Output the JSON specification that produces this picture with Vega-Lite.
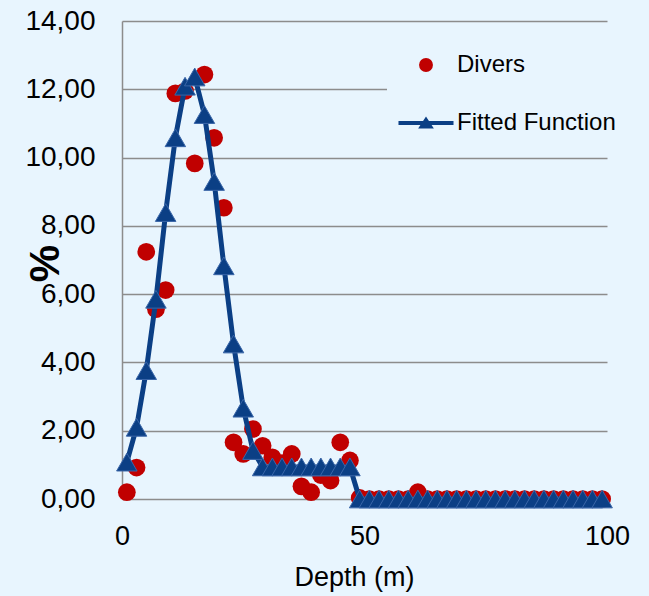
{
  "$schema": "https://vega.github.io/schema/vega-lite/v6.json",
  "autosize": {"type": "none"},
  "width": 485,
  "height": 478,
  "padding": {"left": 122, "top": 21, "right": 42, "bottom": 97},
  "background": "#E8F5FE",
  "config": {
    "view": {"stroke": null},
    "font": "Liberation Sans",
    "axis": {"labelFont": "Liberation Sans", "titleFont": "Liberation Sans", "labelColor": "#000000", "titleColor": "#000000"}
  },
  "data": {
    "values": [
      {"depth": 1, "value": 0.20, "series": "Divers"},
      {"depth": 3, "value": 0.92, "series": "Divers"},
      {"depth": 5, "value": 7.24, "series": "Divers"},
      {"depth": 7, "value": 5.56, "series": "Divers"},
      {"depth": 9, "value": 6.12, "series": "Divers"},
      {"depth": 11, "value": 11.88, "series": "Divers"},
      {"depth": 13, "value": 11.95, "series": "Divers"},
      {"depth": 15, "value": 9.83, "series": "Divers"},
      {"depth": 17, "value": 12.43, "series": "Divers"},
      {"depth": 19, "value": 10.58, "series": "Divers"},
      {"depth": 21, "value": 8.53, "series": "Divers"},
      {"depth": 23, "value": 1.66, "series": "Divers"},
      {"depth": 25, "value": 1.32, "series": "Divers"},
      {"depth": 27, "value": 2.05, "series": "Divers"},
      {"depth": 29, "value": 1.56, "series": "Divers"},
      {"depth": 31, "value": 1.22, "series": "Divers"},
      {"depth": 33, "value": 1.05, "series": "Divers"},
      {"depth": 35, "value": 1.32, "series": "Divers"},
      {"depth": 37, "value": 0.37, "series": "Divers"},
      {"depth": 39, "value": 0.20, "series": "Divers"},
      {"depth": 41, "value": 0.70, "series": "Divers"},
      {"depth": 43, "value": 0.54, "series": "Divers"},
      {"depth": 45, "value": 1.66, "series": "Divers"},
      {"depth": 47, "value": 1.13, "series": "Divers"},
      {"depth": 49, "value": 0.03, "series": "Divers"},
      {"depth": 51, "value": 0, "series": "Divers"},
      {"depth": 53, "value": 0, "series": "Divers"},
      {"depth": 55, "value": 0, "series": "Divers"},
      {"depth": 57, "value": 0, "series": "Divers"},
      {"depth": 59, "value": 0, "series": "Divers"},
      {"depth": 61, "value": 0.20, "series": "Divers"},
      {"depth": 63, "value": 0, "series": "Divers"},
      {"depth": 65, "value": 0, "series": "Divers"},
      {"depth": 67, "value": 0, "series": "Divers"},
      {"depth": 69, "value": 0, "series": "Divers"},
      {"depth": 71, "value": 0, "series": "Divers"},
      {"depth": 73, "value": 0, "series": "Divers"},
      {"depth": 75, "value": 0, "series": "Divers"},
      {"depth": 77, "value": 0, "series": "Divers"},
      {"depth": 79, "value": 0, "series": "Divers"},
      {"depth": 81, "value": 0, "series": "Divers"},
      {"depth": 83, "value": 0, "series": "Divers"},
      {"depth": 85, "value": 0, "series": "Divers"},
      {"depth": 87, "value": 0, "series": "Divers"},
      {"depth": 89, "value": 0, "series": "Divers"},
      {"depth": 91, "value": 0, "series": "Divers"},
      {"depth": 93, "value": 0, "series": "Divers"},
      {"depth": 95, "value": 0, "series": "Divers"},
      {"depth": 97, "value": 0, "series": "Divers"},
      {"depth": 99, "value": 0, "series": "Divers"},
      {"depth": 1, "value": 1.08, "series": "Fitted Function"},
      {"depth": 3, "value": 2.10, "series": "Fitted Function"},
      {"depth": 5, "value": 3.76, "series": "Fitted Function"},
      {"depth": 7, "value": 5.85, "series": "Fitted Function"},
      {"depth": 9, "value": 8.39, "series": "Fitted Function"},
      {"depth": 11, "value": 10.58, "series": "Fitted Function"},
      {"depth": 13, "value": 12.09, "series": "Fitted Function"},
      {"depth": 15, "value": 12.36, "series": "Fitted Function"},
      {"depth": 17, "value": 11.26, "series": "Fitted Function"},
      {"depth": 19, "value": 9.30, "series": "Fitted Function"},
      {"depth": 21, "value": 6.83, "series": "Fitted Function"},
      {"depth": 23, "value": 4.54, "series": "Fitted Function"},
      {"depth": 25, "value": 2.66, "series": "Fitted Function"},
      {"depth": 27, "value": 1.42, "series": "Fitted Function"},
      {"depth": 29, "value": 0.94, "series": "Fitted Function"},
      {"depth": 31, "value": 0.94, "series": "Fitted Function"},
      {"depth": 33, "value": 0.94, "series": "Fitted Function"},
      {"depth": 35, "value": 0.94, "series": "Fitted Function"},
      {"depth": 37, "value": 0.94, "series": "Fitted Function"},
      {"depth": 39, "value": 0.94, "series": "Fitted Function"},
      {"depth": 41, "value": 0.94, "series": "Fitted Function"},
      {"depth": 43, "value": 0.94, "series": "Fitted Function"},
      {"depth": 45, "value": 0.94, "series": "Fitted Function"},
      {"depth": 47, "value": 0.94, "series": "Fitted Function"},
      {"depth": 49, "value": 0, "series": "Fitted Function"},
      {"depth": 51, "value": 0, "series": "Fitted Function"},
      {"depth": 53, "value": 0, "series": "Fitted Function"},
      {"depth": 55, "value": 0, "series": "Fitted Function"},
      {"depth": 57, "value": 0, "series": "Fitted Function"},
      {"depth": 59, "value": 0, "series": "Fitted Function"},
      {"depth": 61, "value": 0, "series": "Fitted Function"},
      {"depth": 63, "value": 0, "series": "Fitted Function"},
      {"depth": 65, "value": 0, "series": "Fitted Function"},
      {"depth": 67, "value": 0, "series": "Fitted Function"},
      {"depth": 69, "value": 0, "series": "Fitted Function"},
      {"depth": 71, "value": 0, "series": "Fitted Function"},
      {"depth": 73, "value": 0, "series": "Fitted Function"},
      {"depth": 75, "value": 0, "series": "Fitted Function"},
      {"depth": 77, "value": 0, "series": "Fitted Function"},
      {"depth": 79, "value": 0, "series": "Fitted Function"},
      {"depth": 81, "value": 0, "series": "Fitted Function"},
      {"depth": 83, "value": 0, "series": "Fitted Function"},
      {"depth": 85, "value": 0, "series": "Fitted Function"},
      {"depth": 87, "value": 0, "series": "Fitted Function"},
      {"depth": 89, "value": 0, "series": "Fitted Function"},
      {"depth": 91, "value": 0, "series": "Fitted Function"},
      {"depth": 93, "value": 0, "series": "Fitted Function"},
      {"depth": 95, "value": 0, "series": "Fitted Function"},
      {"depth": 97, "value": 0, "series": "Fitted Function"},
      {"depth": 99, "value": 0, "series": "Fitted Function"}
    ]
  },
  "encoding": {
    "x": {
      "field": "depth", "type": "quantitative",
      "scale": {"domain": [0, 100], "nice": false, "zero": false},
      "axis": {
        "title": "Depth (m)", "titleFontSize": 27, "titleFontWeight": "normal",
        "titleX": 232, "titleY": 65, "titleBaseline": "top",
        "values": [0, 50, 100], "labelFontSize": 27, "labelPadding": 24,
        "ticks": false, "tickSize": 0, "domain": false, "grid": false,
        "labelFlush": false
      }
    },
    "y": {
      "field": "value", "type": "quantitative",
      "scale": {"domain": [0, 14], "nice": false},
      "axis": {
        "title": "%", "titleFontSize": 42, "titleFontWeight": "bold",
        "titleX": -64, "titleY": 242, "titleBaseline": "alphabetic", "titleAngle": -90,
        "values": [0, 2, 4, 6, 8, 10, 12, 14],
        "labelExpr": "replace(format(datum.value, '.2f'), '.', ',')",
        "labelFontSize": 28, "labelPadding": 27,
        "ticks": false, "tickSize": 0,
        "domain": true, "domainColor": "#8C8C8C", "domainWidth": 1.5,
        "grid": true, "gridColor": "#8C8C8C", "gridWidth": 1.5,
        "labelFlush": false
      }
    }
  },
  "layer": [
    {
      "transform": [{"filter": "datum.series === 'Divers'"}],
      "mark": {"type": "point", "filled": true, "opacity": 1, "size": 314, "strokeWidth": 0},
      "encoding": {
        "color": {
          "field": "series", "type": "nominal",
          "scale": {"domain": ["Divers", "Fitted Function"], "range": ["#C00000", "#0B3F85"]},
          "legend": {
            "title": null, "orient": "none", "legendX": 265, "legendY": 18,
            "fillColor": "#E8F5FE", "padding": 14,
            "symbolSize": 194, "symbolStrokeWidth": 0, "symbolOpacity": 1,
            "labelFontSize": 24, "labelFont": "Liberation Sans", "labelColor": "#000000",
            "labelOffset": 19, "rowPadding": 34, "symbolOffset": 13
          }
        },
        "shape": {
          "field": "series", "type": "nominal",
          "scale": {"domain": ["Divers", "Fitted Function"], "range": ["circle", "M-3.95,-0.29 L3.95,-0.29 L3.95,0.29 L-3.95,0.29 Z M0,-0.95 L1.13,0.8 L-1.13,0.8 Z"]},
          "legend": {
            "title": null, "orient": "none", "legendX": 265, "legendY": 18,
            "fillColor": "#E8F5FE", "padding": 14,
            "symbolSize": 194, "symbolStrokeWidth": 0, "symbolOpacity": 1,
            "labelFontSize": 24, "labelFont": "Liberation Sans", "labelColor": "#000000",
            "labelOffset": 19, "rowPadding": 34, "symbolOffset": 13
          }
        }
      }
    },
    {
      "transform": [{"filter": "datum.series === 'Fitted Function'"}],
      "mark": {"type": "line", "color": "#0B3F85", "strokeWidth": 5, "strokeJoin": "round", "strokeCap": "round"},
      "encoding": {}
    },
    {
      "transform": [{"filter": "datum.series === 'Fitted Function'"}],
      "mark": {"type": "point", "shape": "triangle-up", "filled": true, "fill": "#0B3F85", "stroke": "#3A66A8", "strokeWidth": 1, "opacity": 1, "size": 420},
      "encoding": {}
    }
  ]
}
